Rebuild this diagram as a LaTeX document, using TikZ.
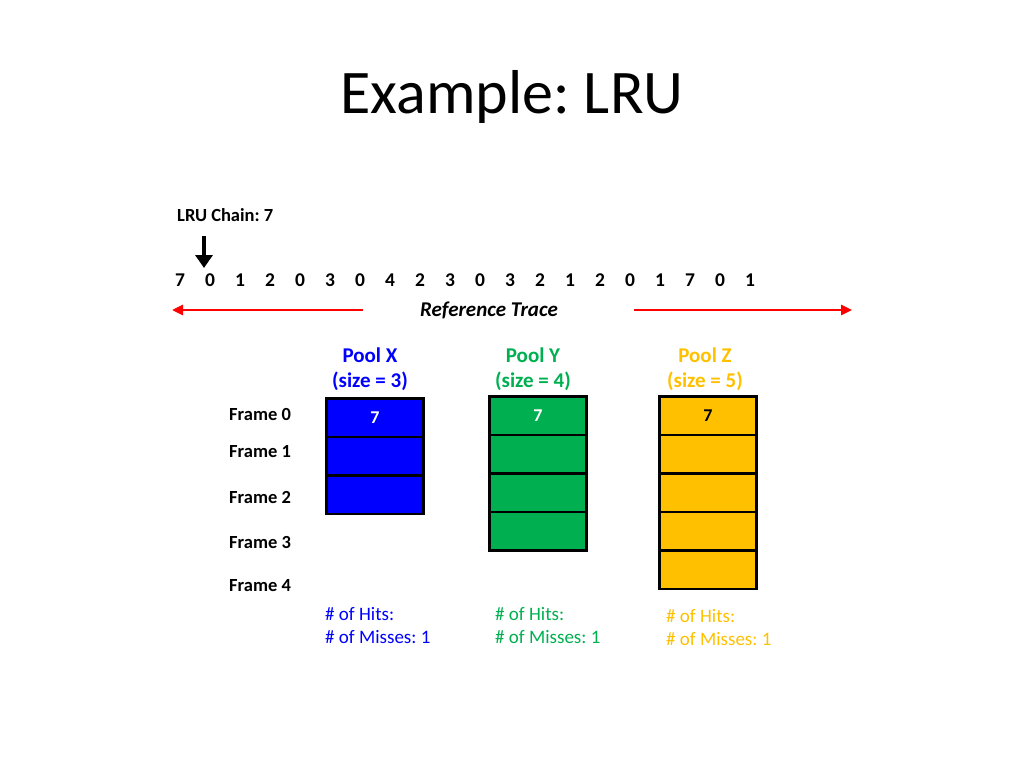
\documentclass[tikz,border=0pt]{standalone}
\usepackage{fontspec}
\setmainfont{Carlito}
\usetikzlibrary{arrows.meta}
\definecolor{px}{RGB}{0,0,255}
\definecolor{py}{RGB}{0,176,80}
\definecolor{pz}{RGB}{255,192,0}
\frenchspacing
\begin{document}
\begin{tikzpicture}[x=1pt,y=-1pt,
  cell/.style={draw=black,line width=2.8pt,minimum width=97pt,minimum height=38.5pt,inner sep=0pt,anchor=north west,font=\fontsize{18}{20}\selectfont\bfseries},
  lbl/.style={font=\fontsize{21}{25}\selectfont\bfseries,inner sep=0pt},
  frm/.style={font=\fontsize{18.5}{20}\selectfont\bfseries,inner sep=0pt,anchor=west},
  dig/.style={font=\fontsize{19.5}{22}\selectfont\bfseries,inner sep=0pt},
  stat/.style={font=\fontsize{19}{22}\selectfont,inner sep=0pt,anchor=west},
  redarrow/.style={draw=red,line width=2.6pt,-{Triangle[length=11pt,width=10pt]}}
]
\useasboundingbox (0,0) rectangle (1024,768);
\node[font=\fontsize{62}{70}\selectfont,inner sep=0pt] (title) at (512,97) {Example: LRU};
\node[frm] (chain) at (177,215) {LRU Chain: 7};
% trace
\foreach \d [count=\i from 0] in {7,0,1,2,0,3,0,4,2,3,0,3,2,1,2,0,1,7,0,1}{
  \node[dig] (t\i) at (180+30*\i,280) {\d};
}
\coordinate (ptop) at (204,236);
\coordinate (pbot) at (204,268);
\draw[line width=4.5pt,-{Triangle[length=13pt,width=17pt]}] (ptop) -- (pbot);
\node[font=\fontsize{21}{24}\selectfont\bfseries\itshape,inner sep=0pt] (rt) at (489,310) {Reference Trace};
\coordinate (la) at (363,310); \coordinate (lb) at (172,310);
\coordinate (ra) at (634,310); \coordinate (rb) at (852,310);
\draw[redarrow] (la) -- (lb);
\draw[redarrow] (ra) -- (rb);
% pool labels
\node[lbl,text=px,align=center] (px) at (370,369) {Pool X\\[0pt](size = 3)};
\node[lbl,text=py,align=center] (py) at (533,369) {Pool Y\\[0pt](size = 4)};
\node[lbl,text=pz,align=center] (pz) at (705,369) {Pool Z\\[0pt](size = 5)};
% frame labels
\node[frm] (f0) at (229,414) {Frame 0};
\node[frm] (f1) at (229,452) {Frame 1};
\node[frm] (f2) at (229,497) {Frame 2};
\node[frm] (f3) at (229,542) {Frame 3};
\node[frm] (f4) at (229,586) {Frame 4};
% pool X
\node[cell,fill=px,text=white] (x0) at (325,397) {7};
\node[cell,fill=px] (x1) at (325,435.5) {};
\node[cell,fill=px] (x2) at (325,474) {};
% pool Y
\node[cell,fill=py,text=white] (y0) at (488,395) {7};
\node[cell,fill=py] (y1) at (488,433.5) {};
\node[cell,fill=py] (y2) at (488,472) {};
\node[cell,fill=py] (y3) at (488,510.5) {};
% pool Z
\node[cell,fill=pz,text=black] (z0) at (658,395) {7};
\node[cell,fill=pz] (z1) at (658,433.5) {};
\node[cell,fill=pz] (z2) at (658,472) {};
\node[cell,fill=pz] (z3) at (658,510.5) {};
\node[cell,fill=pz] (z4) at (658,549) {};
% stats
\node[stat,text=px] (hx) at (325,614) {\# of Hits:};
\node[stat,text=px] (mx) at (325,637) {\# of Misses: 1};
\node[stat,text=py] (hy) at (495,614) {\# of Hits:};
\node[stat,text=py] (my) at (495,637) {\# of Misses: 1};
\node[stat,text=pz] (hz) at (666,616) {\# of Hits:};
\node[stat,text=pz] (mz) at (666,639) {\# of Misses: 1};
\end{tikzpicture}
\end{document}
